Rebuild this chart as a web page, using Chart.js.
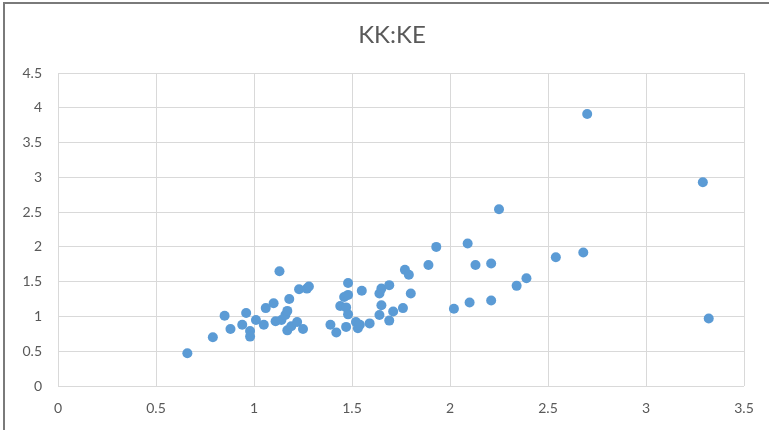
<!DOCTYPE html>
<html>
<head>
<meta charset="utf-8">
<script src="https://cdn.jsdelivr.net/npm/chart.js@4/dist/chart.umd.min.js"></script>
<style>
  html, body { margin: 0; padding: 0; background: #ffffff; }
  #wrap { width: 769px; height: 430px; position: relative; }
</style>
</head>
<body>
<div id="wrap"><canvas id="c" width="769" height="430"></canvas></div>
<script>
// KK values (x) and KE values (y), one entry per observation
const kk = [
  0.66, 0.79, 0.85, 0.88, 0.94, 0.96, 0.98, 0.98, 1.01, 1.05,
  1.06, 1.10, 1.11, 1.13, 1.14, 1.16, 1.17, 1.18, 1.17, 1.19,
  1.22, 1.23, 1.25, 1.27, 1.28, 1.39, 1.42, 1.47, 1.48, 1.55,
  1.46, 1.48, 1.44, 1.47, 1.48, 1.52, 1.53, 1.54, 1.59, 1.64,
  1.65, 1.64, 1.65, 1.69, 1.69, 1.71, 1.76, 1.77, 1.79, 1.80,
  1.89, 1.93, 2.02, 2.09, 2.10, 2.13, 2.21, 2.21, 2.25, 2.34,
  2.39, 2.54, 2.68, 2.70, 3.29, 3.32
];
const ke = [
  0.47, 0.70, 1.01, 0.82, 0.88, 1.05, 0.79, 0.71, 0.95, 0.88,
  1.12, 1.19, 0.93, 1.65, 0.95, 1.02, 1.08, 1.25, 0.80, 0.86,
  0.92, 1.39, 0.82, 1.40, 1.43, 0.88, 0.77, 0.85, 1.48, 1.37,
  1.28, 1.31, 1.15, 1.13, 1.03, 0.92, 0.83, 0.88, 0.90, 1.02,
  1.16, 1.33, 1.40, 1.45, 0.94, 1.07, 1.12, 1.67, 1.60, 1.33,
  1.74, 2.00, 1.11, 2.05, 1.20, 1.74, 1.76, 1.23, 2.54, 1.44,
  1.55, 1.85, 1.92, 3.91, 2.93, 0.97
];
const chartTitle = 'KK:KE';
const xMin = 0, xMax = 3.5, xStep = 0.5;
const yMin = 0, yMax = 4.5, yStep = 0.5;

const points = kk.map((x, i) => ({ x: x, y: ke[i] }));

const fontFamily = "Lato, 'Open Sans', 'DejaVu Sans', sans-serif";

// white background, the chart title, and the frame lines along the top and left edges
const framePlugin = {
  id: 'frame',
  beforeDraw(chart) {
    const ctx = chart.ctx;
    ctx.save();
    ctx.fillStyle = '#ffffff';
    ctx.fillRect(0, 0, chart.width, chart.height);
    ctx.restore();
  },
  afterDraw(chart) {
    const ctx = chart.ctx;
    ctx.save();
    ctx.fillStyle = '#595959';
    ctx.font = '24px ' + fontFamily;
    ctx.textAlign = 'center';
    ctx.textBaseline = 'middle';
    ctx.fillText(chartTitle, 392, 35);
    ctx.strokeStyle = '#7a7a7a';
    ctx.lineWidth = 2;
    ctx.beginPath();
    ctx.moveTo(4, chart.height);
    ctx.lineTo(4, 3);
    ctx.lineTo(chart.width, 3);
    ctx.stroke();
    ctx.restore();
  }
};

const tickText = v => String(Math.round(v * 10) / 10);

new Chart(document.getElementById('c'), {
  type: 'scatter',
  data: {
    datasets: [{
      label: chartTitle,
      data: points,
      backgroundColor: '#5b9bd5',
      borderColor: '#5b9bd5',
      borderWidth: 0,
      pointRadius: 5,
      pointHoverRadius: 5
    }]
  },
  options: {
    responsive: false,
    animation: false,
    layout: { padding: { left: 4, right: 25, top: 73, bottom: 0 } },
    plugins: {
      legend: { display: false },
      tooltip: { enabled: false },
      title: { display: false }
    },
    scales: {
      x: {
        type: 'linear',
        min: xMin,
        max: xMax,
        afterFit(scale) { scale.height = 44; },
        ticks: {
          stepSize: xStep,
          color: '#595959',
          padding: 14,
          font: { family: fontFamily, size: 14 },
          maxRotation: 0,
          callback: tickText
        },
        grid: { color: '#d9d9d9', lineWidth: 1, drawTicks: false },
        border: { display: false }
      },
      y: {
        type: 'linear',
        min: yMin,
        max: yMax,
        afterFit(scale) { scale.width = 54; },
        ticks: {
          stepSize: yStep,
          color: '#595959',
          padding: 16,
          font: { family: fontFamily, size: 14 },
          callback: tickText
        },
        grid: { color: '#d9d9d9', lineWidth: 1, drawTicks: false },
        border: { display: false }
      }
    }
  },
  plugins: [framePlugin]
});
</script>
</body>
</html>
